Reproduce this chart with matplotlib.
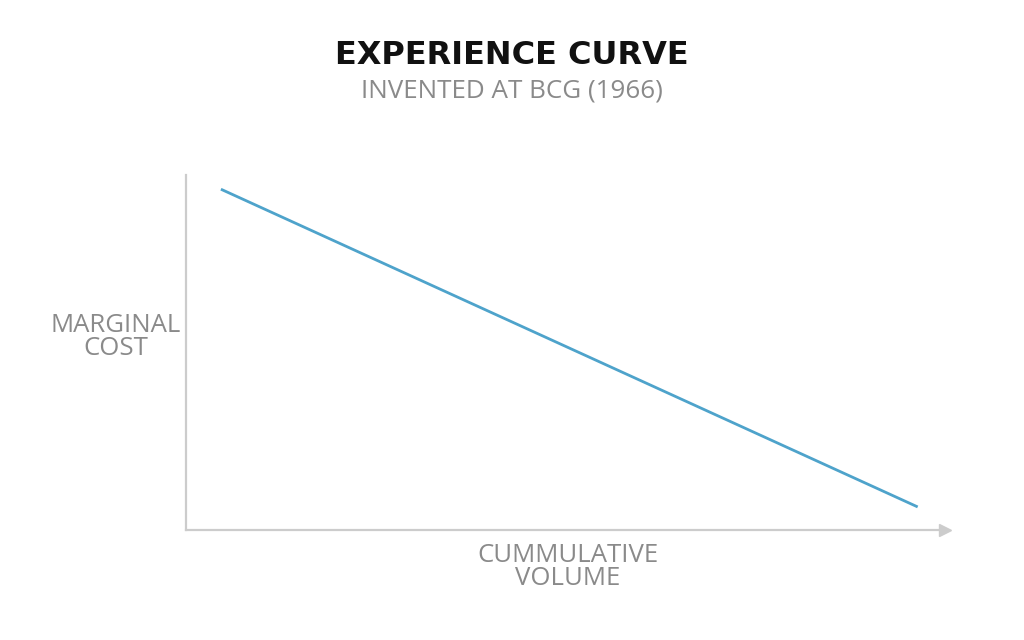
import matplotlib.pyplot as plt

# experience curve: straight line, cost falls as volume grows
volume = [0.046, 0.964]
marginal_cost = [0.96, 0.065]

LINE_COLOR = "#4ea3cb"
AXIS_COLOR = "#cccccc"
TEXT_GRAY = "#8a8a8a"

fig = plt.figure(figsize=(10.24, 6.4), dpi=100)
ax = fig.add_axes([186 / 1024, 1 - 530 / 640, (945 - 186) / 1024, (530 - 175) / 640])

ax.plot(volume, marginal_cost, color=LINE_COLOR, lw=2.0, solid_capstyle="butt")
ax.set_xlim(0, 1)
ax.set_ylim(0, 1)

for side in ["top", "right"]:
    ax.spines[side].set_visible(False)
for side in ["left", "bottom"]:
    ax.spines[side].set_color(AXIS_COLOR)
    ax.spines[side].set_linewidth(1.6)
ax.set_xticks([])
ax.set_yticks([])

# arrow head at the end of the x axis
ax.plot([1.0], [0.0], marker=">", color=AXIS_COLOR, markersize=8, clip_on=False)

fig.text(0.5, 1 - 55 / 640, "EXPERIENCE CURVE", ha="center", va="center",
         fontsize=23, fontweight="bold", family="DejaVu Sans", color="#111111")
fig.text(0.5, 1 - 91 / 640, "INVENTED AT BCG (1966)", ha="center", va="center",
         fontsize=18.7, family="Open Sans", color=TEXT_GRAY)

fig.text(116 / 1024, 1 - 337 / 640, "MARGINAL\nCOST", ha="center", va="center",
         fontsize=18.5, family="Open Sans", color=TEXT_GRAY, linespacing=0.9)
fig.text(568 / 1024, 1 - 567 / 640, "CUMMULATIVE\nVOLUME", ha="center", va="center",
         fontsize=18.5, family="Open Sans", color=TEXT_GRAY, linespacing=0.9)

fig.savefig("out.png", dpi=100, facecolor="white")
